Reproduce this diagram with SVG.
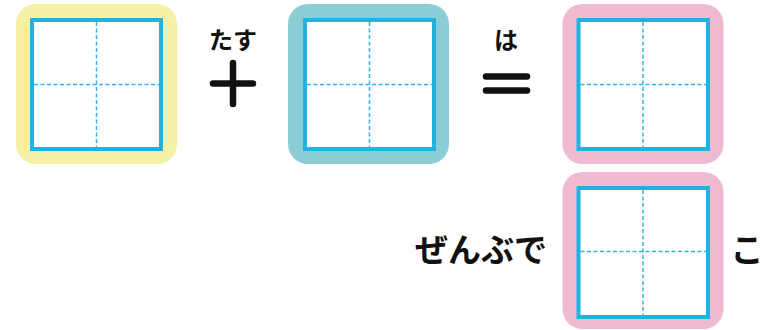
<svg xmlns="http://www.w3.org/2000/svg" width="770" height="330" viewBox="0 0 770 330">
<style>
.sq{fill:#ffffff;stroke:#20b3e1;stroke-width:4}
.gd{stroke:#30b6e6;stroke-width:1.5;stroke-dasharray:4 2.5;fill:none}
.t{font-family:"Noto Sans CJK JP",sans-serif;font-weight:bold;fill:#111111}
.op{stroke:#111111;stroke-width:6.5;stroke-linecap:round;fill:none}
</style>
<rect width="770" height="330" fill="#ffffff"/>
<g id="box1">
<rect x="16" y="4" width="161" height="160" rx="20" fill="#f5f0a4"/>
<rect class="sq" x="32" y="20" width="129" height="129"/>
<line class="gd" x1="96.5" y1="22" x2="96.5" y2="147"/>
<line class="gd" x1="34" y1="84.5" x2="159" y2="84.5"/>
</g>
<g id="plus">
<text class="t" x="233" y="49" font-size="24" text-anchor="middle">たす</text>
<line class="op" x1="213" y1="83.5" x2="253" y2="83.5"/>
<line class="op" x1="233" y1="63" x2="233" y2="104"/>
</g>
<g id="box2">
<rect x="288" y="4" width="161" height="160" rx="20" fill="#8ccdd5"/>
<rect class="sq" x="305" y="20" width="129" height="129"/>
<line class="gd" x1="369.5" y1="22" x2="369.5" y2="147"/>
<line class="gd" x1="307" y1="84.5" x2="432" y2="84.5"/>
</g>
<g id="equals">
<text class="t" x="506" y="49" font-size="24" text-anchor="middle">は</text>
<line class="op" x1="486" y1="76.5" x2="527" y2="76.5"/>
<line class="op" x1="486" y1="90.5" x2="527" y2="90.5"/>
</g>
<g id="box3">
<rect x="562.5" y="4" width="161" height="160" rx="20" fill="#efbad1"/>
<rect class="sq" x="578.5" y="20" width="129.5" height="129"/>
<line class="gd" x1="643" y1="22" x2="643" y2="147"/>
<line class="gd" x1="580.5" y1="84.5" x2="706" y2="84.5"/>
</g>
<g id="box4">
<rect x="562.5" y="172" width="161" height="157" rx="20" fill="#efbad1"/>
<rect class="sq" x="578.5" y="188" width="129.5" height="129"/>
<line class="gd" x1="643" y1="190" x2="643" y2="315"/>
<line class="gd" x1="580.5" y1="251.5" x2="706" y2="251.5"/>
</g>
<text class="t" x="481" y="262" font-size="33" text-anchor="middle">ぜんぶで</text>
<text class="t" x="747" y="262" font-size="33" text-anchor="middle">こ</text>
</svg>
